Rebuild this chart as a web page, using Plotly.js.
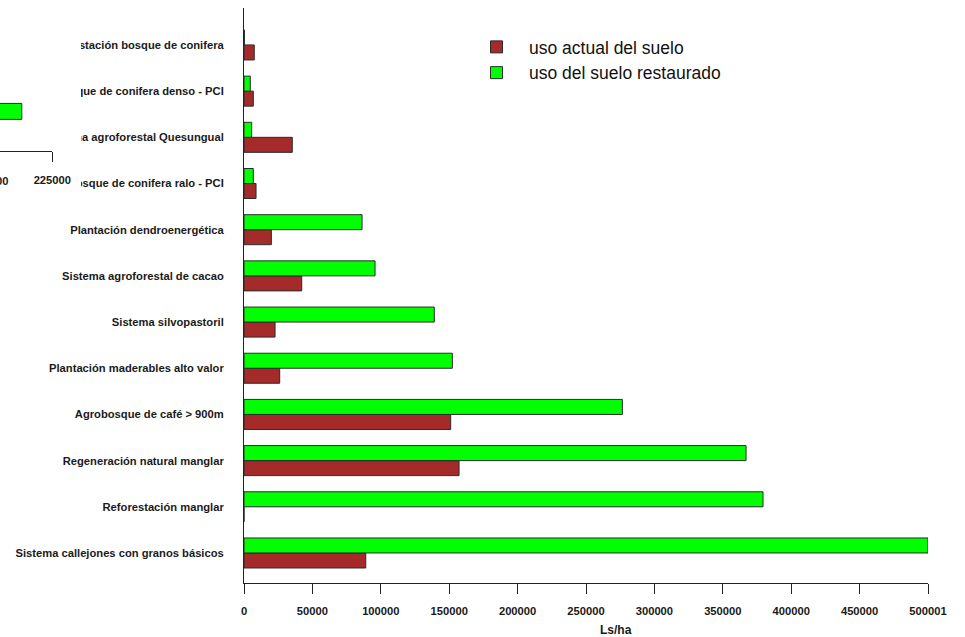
<!DOCTYPE html>
<html><head><meta charset="utf-8">
<script src="https://cdn.plot.ly/plotly-3.0.1.min.js"></script>
<style>html,body{margin:0;padding:0;background:#fff;} #chart{width:965px;height:637px;}</style>
</head><body><div id="chart"></div>
<script>
// Categories listed bottom-to-top (as drawn)
const categories = [
  "Sistema callejones con granos básicos",
  "Reforestación manglar",
  "Regeneración natural manglar",
  "Agrobosque de café > 900m",
  "Plantación maderables alto valor",
  "Sistema silvopastoril",
  "Sistema agroforestal de cacao",
  "Plantación dendroenergética",
  "Bosque de conifera ralo - PCI",
  "Sistema agroforestal Quesungual",
  "Bosque de conifera denso - PCI",
  "Reforestación bosque de conifera"
];
const usoActual     = [89000, 0, 157200, 151100, 26100, 22700, 42200, 20000, 8800, 35300, 6800, 7500];
const usoRestaurado = [500001, 379400, 367000, 276600, 152300, 139100, 95800, 86300, 6800, 5600, 4600, 300];
const seriesNames = ["uso actual del suelo", "uso del suelo restaurado"];
const xTickVals = [0, 50000, 100000, 150000, 200000, 250000, 300000, 350000, 400000, 450000, 500001];
const xTickText = ["0", "50000", "100000", "150000", "200000", "250000", "300000", "350000", "400000", "450000", "500001"];
const xTitle = "Ls/ha";

// fragment of a neighbouring chart overlapping the top-left corner
const fragValues = [212700];
const fragCats = [1];
const fragTickVals = [225000];
const fragTickText = ["225000"];
const fragHiddenLabel = "00";

const W = 965, H = 637;
const px = v => v / W;
const py = v => (H - v) / H;

const FONT = "Liberation Sans, Arial, sans-serif";
const edge = {color: "#2b2b2b", width: 1};

const traces = [
  {type: "bar", orientation: "h", name: seriesNames[0], y: categories, x: usoActual,
   marker: {color: "#A52A2A", line: edge}, xaxis: "x", yaxis: "y", hoverinfo: "x+y+name"},
  {type: "bar", orientation: "h", name: seriesNames[1], y: categories, x: usoRestaurado,
   marker: {color: "#00FF00", line: edge}, xaxis: "x", yaxis: "y", hoverinfo: "x+y+name"},
  // empty placeholders so the helper subplots exist
  {type: "scatter", mode: "none", x: [null], y: [null], xaxis: "x2", yaxis: "y2", showlegend: false, hoverinfo: "skip"},
  {type: "scatter", mode: "none", x: [null], y: [null], xaxis: "x3", yaxis: "y3", showlegend: false, hoverinfo: "skip"},
  {type: "bar", orientation: "h", showlegend: false, y: fragCats, x: fragValues,
   marker: {color: "#00FF00", line: edge}, xaxis: "x4", yaxis: "y4", hoverinfo: "skip"}
];

const hidden = {showline: false, showgrid: false, zeroline: false, showticklabels: false, ticks: "", fixedrange: true};

const layout = {
  width: W, height: H,
  margin: {l: 0, r: 0, t: 0, b: 0, pad: 0},
  paper_bgcolor: "#ffffff", plot_bgcolor: "#ffffff",
  barmode: "group", bargap: 0.35, bargroupgap: 0,
  font: {family: FONT, color: "#111"},
  showlegend: true,
  legend: {x: px(464), y: py(29), xanchor: "left", yanchor: "top", itemwidth: 55,
           font: {family: FONT, size: 17.5, color: "#111"}, bgcolor: "rgba(0,0,0,0)", traceorder: "normal"},
  xaxis: {domain: [px(244), px(928)], range: [0, 500001], anchor: "y",
          tickmode: "array", tickvals: xTickVals, ticktext: xTickText,
          showline: true, linecolor: "#222", linewidth: 1, mirror: false,
          ticks: "outside", ticklen: 10, tickcolor: "#222", tickwidth: 1,
          ticklabelstandoff: 8,
          tickfont: {family: FONT, size: 11.2, color: "#1a1a1a", weight: "bold"},
          showgrid: false, zeroline: false, fixedrange: true},
  yaxis: {domain: [py(583), py(8)], range: [-0.65, 11.8], anchor: "x", type: "category",
          showline: true, linecolor: "#222", linewidth: 1,
          ticks: "", ticklabelstandoff: 17,
          tickfont: {family: FONT, size: 11.2, color: "#1a1a1a", weight: "bold"},
          showgrid: false, zeroline: false, automargin: false, fixedrange: true},
  // dummy lower subplot so the covering subplots get their own opaque backgrounds
  xaxis2: Object.assign({domain: [0, px(78)], anchor: "y2", range: [0, 1]}, hidden),
  yaxis2: Object.assign({domain: [py(200), 1], anchor: "x2", range: [0, 1]}, hidden),
  // white covering panel of the neighbouring chart
  xaxis3: Object.assign({domain: [0, px(81)], anchor: "y3", range: [0, 1]}, hidden),
  yaxis3: Object.assign({domain: [py(210), 1], anchor: "x3", range: [0, 1]}, hidden),
  // fragment axis
  xaxis4: {domain: [0, px(52.3)], anchor: "y4", range: [203911, 225000],
           tickmode: "array", tickvals: fragTickVals, ticktext: fragTickText,
           showline: true, linecolor: "#222", linewidth: 1,
           ticks: "outside", ticklen: 10, tickcolor: "#222", ticklabelstandoff: 9,
           tickfont: {family: FONT, size: 11.2, color: "#1a1a1a", weight: "bold"},
           showgrid: false, zeroline: false, fixedrange: true},
  yaxis4: Object.assign({domain: [py(151), py(60)], anchor: "x4", range: [1 - 1.61, 1 + 2.09]}, hidden),
  annotations: [
    {text: xTitle, xref: "paper", yref: "paper", x: px(616), y: py(630), xanchor: "center", yanchor: "middle",
     showarrow: false, font: {family: FONT, size: 12, color: "#1a1a1a", weight: "bold"}},
    {text: fragHiddenLabel, xref: "paper", yref: "paper", x: px(10), y: py(181), xanchor: "right", yanchor: "middle",
     showarrow: false, font: {family: FONT, size: 11.2, color: "#1a1a1a", weight: "bold"}}
  ]
};

Plotly.newPlot("chart", traces, layout, {displayModeBar: false, staticPlot: true});
</script></body></html>
